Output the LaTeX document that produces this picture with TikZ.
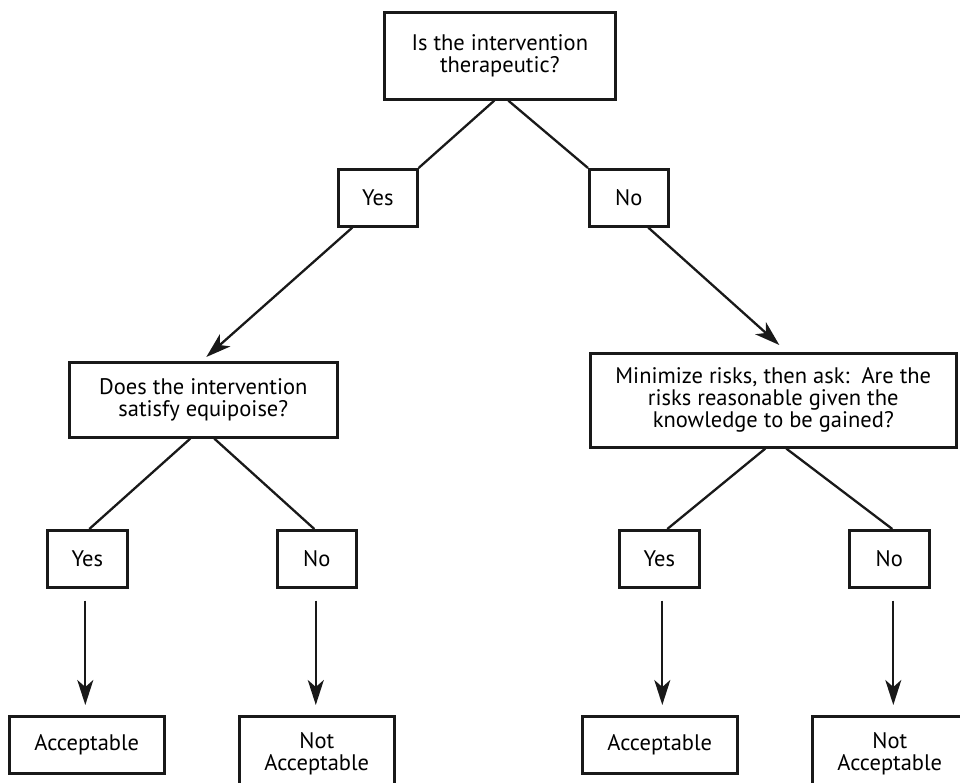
\documentclass[tikz,border=0pt]{standalone}
\usepackage{fontspec}
\setmainfont{PT Sans}
\usetikzlibrary{arrows.meta,calc}
\tikzset{
  box/.style={draw=black!90, line width=2.6pt, anchor=north west, inner sep=0pt,
              align=center, font=\fontsize{22.5}{22}\selectfont},
  link/.style={draw=black!90, line width=2.3pt},
  arr/.style={link, -{Stealth[length=25pt,width=16pt,inset=7pt]}}
}
\begin{document}
\begin{tikzpicture}[x=1pt,y=-1pt]
  \clip (0,0) rectangle (960,783);
  \fill[white] (0,0) rectangle (960,783);

  % question boxes
  \node[box, minimum width=231pt, minimum height=87pt] (top) at (383,11)
       {Is the intervention\\therapeutic?};
  \node[box, minimum width=268pt, minimum height=75pt] (eq) at (68,361)
       {Does the intervention\\satisfy equipoise?};
  \node[box, minimum width=366pt, minimum height=94pt] (min) at (589,352)
       {Minimize risks, then ask:\ \ Are the\\risks reasonable given the\\knowledge to be gained?};

  % answer boxes
  \node[box, minimum width=79pt, minimum height=57pt] (yes1) at (337,168) {Yes};
  \node[box, minimum width=79pt, minimum height=57pt] (no1)  at (588,168) {No};
  \node[box, minimum width=80pt, minimum height=57pt] (yes2) at (46,529)  {Yes};
  \node[box, minimum width=79pt, minimum height=57pt] (no2)  at (276,529) {No};
  \node[box, minimum width=80pt, minimum height=57pt] (yes3) at (618,529) {Yes};
  \node[box, minimum width=80pt, minimum height=57pt] (no3)  at (848,529) {No};

  % outcomes
  \node[box, minimum width=155pt, minimum height=57pt] (acc1)  at (8,715)   {Acceptable};
  \node[box, minimum width=155pt, minimum height=75pt] (nacc1) at (238,715) {Not\\Acceptable};
  \node[box, minimum width=155pt, minimum height=57pt] (acc2)  at (581,715) {Acceptable};
  \node[box, minimum width=155pt, minimum height=75pt] (nacc2) at (811,715) {Not\\Acceptable};

  % branches from the first question
  \draw[link] ([xshift=-5.5pt]top.south) -- (yes1.north east);
  \draw[link] ([xshift=8.5pt]top.south) -- (no1.north west);
  \draw[arr] ([xshift=-25.5pt]yes1.south) -- ([xshift=3pt,yshift=4pt]eq.north);
  \draw[arr] ([xshift=19.5pt]no1.south) -- ([xshift=6pt,yshift=7pt]min.north);

  % branches from the second-level questions
  \draw[link] ([xshift=-13pt]eq.south) -- ([xshift=2pt]yes2.north);
  \draw[link] ([xshift=11pt]eq.south) -- ([xshift=-2.5pt]no2.north);
  \draw[link] ([xshift=-8pt]min.south) -- ([xshift=8pt]yes3.north);
  \draw[link] ([xshift=13pt]min.south) -- ([xshift=3pt]no3.north);

  % answers lead to outcomes
  \coordinate (s1) at ($(yes2.south)+(-2,12)$);
  \coordinate (s2) at ($(no2.south)+(-1,12)$);
  \coordinate (s3) at ($(yes3.south)+(3,12)$);
  \coordinate (s4) at ($(no3.south)+(4,12)$);
  \coordinate (e1) at (s1 |- acc1.north);
  \coordinate (e2) at (s2 |- nacc1.north);
  \coordinate (e3) at (s3 |- acc2.north);
  \coordinate (e4) at (s4 |- nacc2.north);
  \draw[arr] (s1) -- ([yshift=10pt]e1);
  \draw[arr] (s2) -- ([yshift=10pt]e2);
  \draw[arr] (s3) -- ([yshift=10pt]e3);
  \draw[arr] (s4) -- ([yshift=10pt]e4);
\end{tikzpicture}
\end{document}
